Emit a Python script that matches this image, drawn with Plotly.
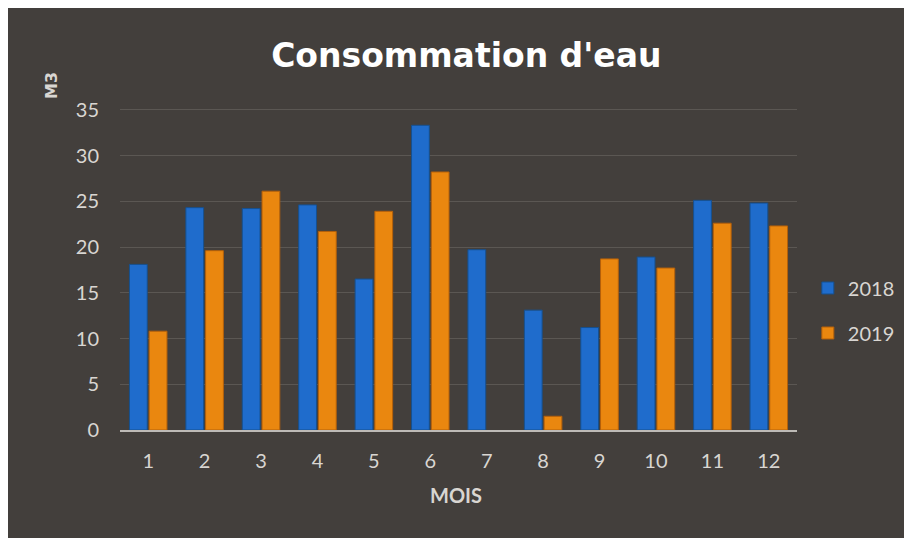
'''
    Water consumption bar chart, 2018 vs 2019, by month.
'''
import plotly.graph_objects as go

mois = [str(m) for m in range(1, 13)]
conso_2018 = [18.1, 24.3, 24.2, 24.6, 16.5, 33.3, 19.7, 13.1, 11.2, 18.9, 25.1, 24.8]
conso_2019 = [10.8, 19.6, 26.1, 21.7, 23.9, 28.2, 0, 1.5, 18.7, 17.7, 22.6, 22.3]
y_ticks = [0, 5, 10, 15, 20, 25, 30, 35]

BG = "#433f3c"
TXT = "#d9d6d2"
FONT = "Lato"

fig = go.Figure()
fig.add_trace(go.Bar(x=mois, y=conso_2018, name="2018", legendgroup="a",
    marker=dict(color="#1f6ccc", line=dict(color="#16508f", width=1))))
fig.add_trace(go.Bar(x=mois, y=conso_2019, name="2019", legendgroup="b",
    marker=dict(color="#ea870f", line=dict(color="#b4600a", width=[1]*6 + [0] + [1]*5))))

# the page body adds an 8px white margin at top and left, as in the photo
fig.update_layout(
    width=904, height=530,
    paper_bgcolor=BG, plot_bgcolor=BG,
    margin=dict(l=112, r=103, t=99, b=108),
    barmode="group", bargap=0.3, bargroupgap=0.1,
    font=dict(family=FONT, color=TXT, size=20),
    title=dict(text="<b>Consommation d'eau</b>", x=0.507, xanchor="center",
               y=0.91, yanchor="middle",
               font=dict(family="DejaVu Sans", size=33, color="#ffffff")),
    legend=dict(x=1.016, y=0.37, xanchor="left", yanchor="middle",
                font=dict(size=20, color=TXT), tracegroupgap=16,
                itemwidth=30, bgcolor="rgba(0,0,0,0)"),
    showlegend=True,
)

fig.update_yaxes(range=[0, 35.3], tickvals=y_ticks, showgrid=True,
                 gridcolor="#5b5753", gridwidth=1, zeroline=False,
                 ticks="", ticklabelstandoff=20, showline=False,
                 tickfont=dict(size=20, color=TXT))
fig.update_xaxes(showline=True, linecolor="#bdbab6", linewidth=2,
                 ticks="", ticklabelstandoff=12,
                 tickfont=dict(size=20, color=TXT))

fig.add_annotation(text="<b>M3</b>", textangle=-90, xref="paper", yref="paper",
                   x=-0.102, y=1.068, xanchor="center", yanchor="middle",
                   showarrow=False, font=dict(family="DejaVu Sans", size=16, color=TXT))
fig.add_annotation(text="<b>MOIS</b>", xref="paper", yref="paper",
                   x=0.497, y=-0.201, xanchor="center", yanchor="middle",
                   showarrow=False, font=dict(family=FONT, size=20, color=TXT))

fig.write_html("out.html")
